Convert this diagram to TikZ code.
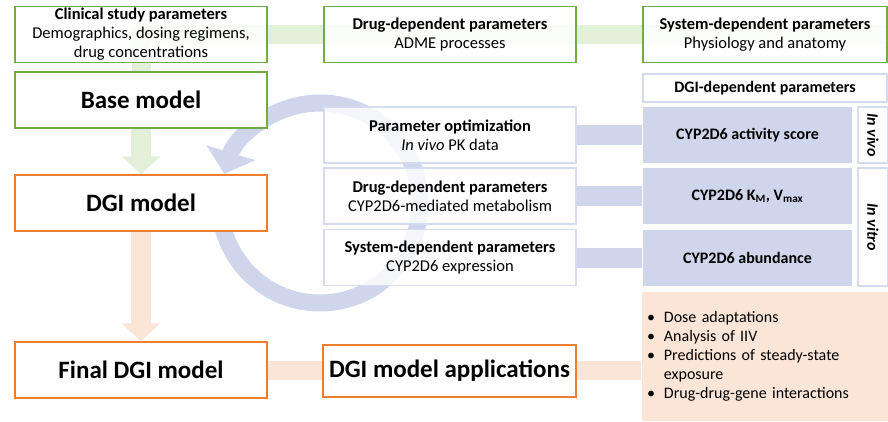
\documentclass[tikz,border=0pt]{standalone}
\usepackage{fontspec}
\setmainfont{Carlito}
\usetikzlibrary{arrows.meta,backgrounds}
\definecolor{boxgreen}{HTML}{70AD47}
\definecolor{bandgreen}{HTML}{E2F0D9}
\definecolor{boxorange}{HTML}{ED7D31}
\definecolor{bandorange}{HTML}{FBE5D6}
\definecolor{fillblue}{HTML}{CFD5EA}
\definecolor{lineblue}{HTML}{D6DCF0}
\begin{document}
\begin{tikzpicture}[
		x=1pt, y=1pt,
		box/.style={draw, line width=1.5pt, fill=white, minimum width=252pt, minimum height=56pt, inner sep=1pt, align=center, font=\fontsize{16.5}{19}\selectfont},
		greenbox/.style={box, draw=boxgreen},
		topbox/.style={greenbox, fill opacity=0.85, text opacity=1},
		model/.style={font=\fontsize{25}{29}\selectfont\bfseries},
		orangebox/.style={box, draw=boxorange, model},
		parbox/.style={box, draw=lineblue, fill opacity=0.8, text opacity=1},
		bluebox/.style={box, draw=none, fill=fillblue, minimum width=209pt, font=\fontsize{16}{19}\selectfont\bfseries},
		sidebox/.style={box, draw=lineblue, rotate=-90, minimum height=30pt, font=\fontsize{16}{19}\selectfont\bfseries\itshape},
		band/.style={line width=19pt},
		fatarrow/.style={line width=20pt, -{Triangle[width=38pt, length=18pt]}},
		cyclearrow/.style={line width=17pt, fillblue, -{Triangle[width=50pt, length=22pt]}}
	]
	\useasboundingbox (0,0) rectangle (888,-421);
	\def\colA{141}
	\def\colB{450}
	\def\colC{765}
	% inputs
	\node[topbox] (clin) at (\colA,-34.5) {\textbf{Clinical study parameters}\\Demographics, dosing regimens,\\drug concentrations};
	\node[topbox] (drugpar) at (\colB,-34.5) {\textbf{Drug-dependent parameters}\\ADME processes};
	\node[topbox, minimum width=244pt] (syspar) at (\colC,-34.5) {\textbf{System-dependent parameters}\\Physiology and anatomy};
	% models
	\node[greenbox, model] (base) at (\colA,-100) {Base model};
	\node[orangebox] (dgi) at (\colA,-203) {DGI model};
	\node[orangebox] (final) at (\colA,-370) {Final DGI model};
	\node[orangebox, minimum width=253pt, minimum height=52pt] (apps) at (449.5,-371) {DGI model applications};
	% DGI parameters
	\node[box, draw=lineblue, minimum width=244pt, minimum height=28pt, font=\fontsize{16}{19}\selectfont\bfseries] (dgipar) at (\colC,-88) {DGI-dependent parameters};
	\node[parbox] (opt) at (\colB,-135) {\textbf{Parameter optimization}\\\textit{In vivo} PK data};
	\node[parbox] (drugcyp) at (\colB,-196) {\textbf{Drug-dependent parameters}\\CYP2D6-mediated metabolism};
	\node[parbox] (syscyp) at (\colB,-257.5) {\textbf{System-dependent parameters}\\CYP2D6 expression};
	\foreach \name/\y/\txt in {actsc/135/{CYP2D6 activity score}, kmvmax/196/{CYP2D6 K\textsubscript{M}, V\textsubscript{max}}, abund/258/{CYP2D6 abundance}} {
		\node[bluebox] (\name) at (747.5,-\y) {\txt};
	}
	\node[sidebox, minimum width=56pt] (invivo) at (873,-135) {In vivo};
	\node[sidebox, minimum width=118pt] (invitro) at (873,-227) {In vitro};
	% applications
	\node[box, draw=none, fill=bandorange, minimum width=246pt, minimum height=129pt, text width=236pt, inner sep=5pt, align=left, font=\fontsize{16}{19}\selectfont] (use) at (\colC,-356.5) {%
		\begin{tabular}{@{}l@{\hspace{9pt}}l@{}}
			\textbullet & Dose adaptations\\
			\textbullet & Analysis of IIV\\
			\textbullet & Predictions of steady-state\\
			& exposure\\
			\textbullet & Drug-drug-gene interactions
		\end{tabular}};
	\begin{pgfonlayer}{background}
		\coordinate (cyc) at (320,-203);
		\draw[cyclearrow] ([shift={(190:100pt)}]cyc) arc[start angle=190, end angle=523, radius=100pt];
		\draw[band, bandgreen] (syspar.east) -| (base.north);
		\draw[fatarrow, bandgreen] (base.south) -- (dgi.north);
		\draw[fatarrow, bandorange] (dgi.south) -- (final.north);
		\draw[band, bandorange] (final.east) -- (final.east -| use.west);
		\foreach \a/\b in {opt/actsc, drugcyp/kmvmax, syscyp/abund} {
			\draw[band, fillblue, line width=20pt] (\a) -- (\a -| \b.west);
		}
	\end{pgfonlayer}
\end{tikzpicture}
\end{document}
